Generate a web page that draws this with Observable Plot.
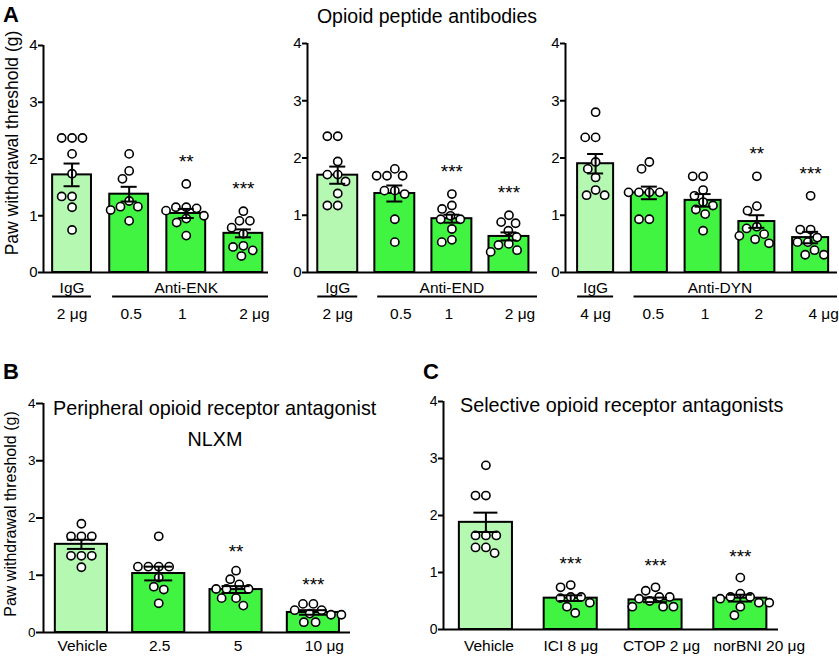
<!DOCTYPE html>
<html>
<head>
<meta charset="utf-8">
<script src="https://cdn.jsdelivr.net/npm/d3@7"></script>
<script src="https://cdn.jsdelivr.net/npm/@observablehq/plot@0.6"></script>
<style>
  body { margin: 0; background: #fff; }
  #wrap { position: relative; width: 839px; height: 656px; overflow: hidden; font-family: "Liberation Sans", Arial, sans-serif; color: #000; }
  .t { position: absolute; line-height: 1; white-space: nowrap; }
</style>
</head>
<body>
<div id="wrap"></div>
<script>
// ---------- DATA ----------
// Panel A: opioid peptide antibodies
const enkGroups = ["IgG", "Anti-ENK"];
const enkDoses = ["2 μg", "0.5", "1", "2 μg"];
const enkMeans = [1.72, 1.38, 1.04, 0.69];
const enkSem = [0.20, 0.13, 0.08, 0.07];
const enkSig = ["", "", "**", "***"];
const enkPoints = [
  [2.37, 2.37, 2.37, 2.09, 1.74, 1.34, 1.34, 1.15, 0.75],
  [2.09, 1.79, 1.65, 1.26, 1.16, 1.16, 1.10, 0.91],
  [1.56, 1.15, 1.15, 1.13, 1.09, 1.00, 0.95, 0.88, 0.65],
  [1.08, 0.91, 0.91, 0.79, 0.68, 0.47, 0.45, 0.39, 0.29]
];

const endGroups = ["IgG", "Anti-END"];
const endDoses = ["2 μg", "0.5", "1", "2 μg"];
const endMeans = [1.70, 1.38, 0.94, 0.63];
const endSem = [0.15, 0.14, 0.07, 0.07];
const endSig = ["", "", "***", "***"];
const endPoints = [
  [2.38, 2.38, 1.94, 1.71, 1.71, 1.59, 1.38, 1.17, 1.17],
  [1.81, 1.69, 1.69, 1.69, 1.43, 1.43, 1.37, 0.93, 0.53],
  [1.37, 1.17, 1.11, 0.99, 0.93, 0.93, 0.76, 0.57, 0.53],
  [1.00, 0.88, 0.86, 0.73, 0.62, 0.50, 0.48, 0.39, 0.36]
];

const dynGroups = ["IgG", "Anti-DYN"];
const dynDoses = ["4 μg", "0.5", "1", "2", "4 μg"];
const dynMeans = [1.90, 1.39, 1.26, 0.89, 0.61];
const dynSem = [0.17, 0.11, 0.11, 0.11, 0.10];
const dynSig = ["", "", "", "**", "***"];
const dynPoints = [
  [2.80, 2.36, 2.36, 1.93, 1.81, 1.66, 1.44, 1.35, 1.35],
  [1.93, 1.81, 1.40, 1.40, 1.40, 1.40, 0.93, 0.93],
  [1.68, 1.68, 1.44, 1.34, 1.23, 1.17, 1.10, 1.02, 0.73],
  [1.68, 1.16, 1.08, 0.80, 0.77, 0.67, 0.64, 0.58, 0.51],
  [1.34, 0.75, 0.75, 0.61, 0.53, 0.53, 0.39, 0.31, 0.31]
];

// Panel B: peripheral opioid receptor antagonist NLXM
const nlxmCats = ["Vehicle", "2.5", "5", "10 μg"];
const nlxmMeans = [1.54, 1.03, 0.75, 0.35];
const nlxmSem = [0.08, 0.12, 0.06, 0.04];
const nlxmSig = ["", "", "**", "***"];
const nlxmPoints = [
  [1.90, 1.68, 1.68, 1.68, 1.34, 1.34, 1.34, 1.14],
  [1.68, 1.15, 1.15, 1.15, 1.15, 0.96, 0.80, 0.75, 0.51],
  [1.08, 0.93, 0.84, 0.76, 0.76, 0.76, 0.60, 0.60, 0.47],
  [0.50, 0.50, 0.39, 0.39, 0.33, 0.31, 0.31, 0.18, 0.18]
];

// Panel C: selective opioid receptor antagonists
const selCats = ["Vehicle", "ICI 8 μg", "CTOP 2 μg", "norBNI 20 μg"];
const selMeans = [1.88, 0.55, 0.52, 0.55];
const selSem = [0.17, 0.05, 0.04, 0.06];
const selSig = ["", "***", "***", "***"];
const selPoints = [
  [2.88, 2.35, 2.35, 1.65, 1.65, 1.65, 1.44, 1.44, 1.34],
  [0.78, 0.74, 0.57, 0.57, 0.55, 0.47, 0.40, 0.29],
  [0.74, 0.68, 0.57, 0.57, 0.54, 0.50, 0.40, 0.40, 0.40],
  [0.91, 0.63, 0.57, 0.57, 0.54, 0.47, 0.47, 0.40, 0.25]
];

const yTicks = [0, 1, 2, 3, 4];
const yLabel = "Paw withdrawal threshold (g)";

// ---------- STYLE ----------
const LIGHT = "#b5f8b1";
const BRIGHT = "#42f442";
const FONT = "Liberation Sans, Arial, sans-serif";

// beeswarm-like horizontal offsets computed from the values
function dodge(vals, kx, ky, r) {
  const order = d3.range(vals.length).sort((a, b) => vals[b] - vals[a]);
  const placed = [];
  const out = new Array(vals.length);
  const D = 2 * r + 1;
  for (const i of order) {
    const y = vals[i] * ky;
    const near = placed.filter(p => Math.abs(p.y - y) < D);
    const cands = [0];
    for (const p of near) {
      const w = Math.sqrt(D * D - (p.y - y) ** 2);
      cands.push(p.x - w, p.x + w);
    }
    cands.sort((a, b) => Math.abs(a) - Math.abs(b) || a - b);
    const x = cands.find(c => near.every(p => Math.hypot(p.x - c, p.y - y) >= D - 1e-6));
    placed.push({x, y});
    out[i] = x / kx;
  }
  return out;
}

function panel(cfg) {
  const {labels, means, sems, sig, points, groups, width, height, mL, mR, mT, mB,
         xmin, xmax, hw, capPx, r, tickFont, tickLen, labFont, starFont, starDy, labDy, labShift,
         showYLabel, yLabDx, yLabDy, yLabFont, groupDx} = cfg;
  const kx = (width - mL - mR) / (xmax - xmin);
  const ky = (height - mT - mB) / 4;
  const cap = capPx / kx;
  const bars = labels.map((lab, i) => ({
    i, lab, mean: means[i], sem: sems[i], sig: sig[i],
    lx: i + (labShift ? labShift[i] : 0) / kx,
    top: d3.max(points[i]), fill: i === 0 ? LIGHT : BRIGHT
  }));
  const pts = [];
  points.forEach((vals, i) => {
    const off = dodge(vals, kx, ky, r + 0.6);
    vals.forEach((v, j) => pts.push({i, v, x: i + off[j]}));
  });
  const marks = [
    Plot.rectY(bars, {x1: d => d.i - hw, x2: d => d.i + hw, y1: 0, y2: "mean", fill: "fill", stroke: "black", strokeWidth: 2}),
    Plot.dot(pts, {x: "x", y: "v", r, fill: "white", stroke: "black", strokeWidth: 1.6}),
    Plot.ruleX(bars, {x: "i", y1: d => d.mean - d.sem, y2: d => d.mean + d.sem, strokeWidth: 2}),
    Plot.ruleY(bars, {y: d => d.mean + d.sem, x1: d => d.i - cap, x2: d => d.i + cap, strokeWidth: 2}),
    Plot.ruleY(bars, {y: d => d.mean - d.sem, x1: d => d.i - cap, x2: d => d.i + cap, strokeWidth: 2}),
    Plot.text(bars.filter(d => d.sig), {x: "i", y: "top", text: "sig", dy: starDy, lineAnchor: "middle", textAnchor: "middle", fontSize: starFont}),
    Plot.ruleY([0], {strokeWidth: 2}),
    Plot.ruleX([xmin], {y1: 0, y2: 4, strokeWidth: 2}),
    // y axis ticks and labels
    Plot.ruleY(yTicks, {y: d => d, x1: xmin, x2: xmin - tickLen / kx, strokeWidth: 2}),
    Plot.text(yTicks, {x: xmin, y: d => d, text: d => String(d), dx: -(tickLen + 1), textAnchor: "end", lineAnchor: "middle", fontSize: tickFont})
  ];
  if (groups) {
    // two-row labels: group names, underline, doses
    const n = labels.length;
    const grp = [
      {name: groups[0], x: 0, x1: -hw, x2: hw},
      {name: groups[1], x: (n) / 2 + (groupDx || 0) / kx, x1: 1 - hw + 0.05, x2: xmax}
    ];
    marks.push(
      Plot.text(grp, {x: "x", y: 0, text: "name", dy: labDy[0], lineAnchor: "bottom", textAnchor: "middle", fontSize: labFont}),
      Plot.ruleY(grp, {y: 0, x1: "x1", x2: "x2", dy: labDy[1], strokeWidth: 2}),
      Plot.text(bars, {x: "lx", y: 0, text: "lab", dy: labDy[2], lineAnchor: "bottom", textAnchor: "middle", fontSize: labFont})
    );
  } else {
    marks.push(Plot.text(bars, {x: "lx", y: 0, text: "lab", dy: labDy[0], lineAnchor: "bottom", textAnchor: "middle", fontSize: labFont}));
  }
  if (showYLabel) {
    marks.push(Plot.text([yLabel], {text: d => d, frameAnchor: "left", rotate: -90, dx: yLabDx, dy: yLabDy,
      textAnchor: "middle", lineAnchor: "bottom", fontSize: yLabFont}));
  }
  const svg = Plot.plot({
    width, height, marginLeft: mL, marginRight: mR, marginTop: mT, marginBottom: mB,
    style: {fontFamily: FONT, fontSize: tickFont + "px", color: "black", background: "transparent", overflow: "visible"},
    x: {type: "linear", domain: [xmin, xmax], axis: null},
    y: {domain: [0, 4], axis: null},
    marks
  });
  svg.style.position = "absolute";
  svg.style.left = cfg.left + "px";
  svg.style.top = cfg.top + "px";
  return svg;
}

const wrap = document.getElementById("wrap");
const common = {r: 4.1, tickFont: 15, tickLen: 5, labFont: 15.5, starFont: 19, starDy: -22};

wrap.append(panel({...common, labels: enkDoses, means: enkMeans, sems: enkSem, sig: enkSig, points: enkPoints, groups: enkGroups,
  left: 0, top: 30, width: 280, height: 300, mL: 43, mR: 12, mT: 15, mB: 58, xmin: -0.5, xmax: 3.44, hw: 0.34, capPx: 8,
  labDy: [20, 24, 46], labShift: [0, 2, -4, 11], showYLabel: true, yLabDx: -26, yLabDy: -16, yLabFont: 17.5}));
wrap.append(panel({...common, labels: endDoses, means: endMeans, sems: endSem, sig: endSig, points: endPoints, groups: endGroups,
  left: 280, top: 30, width: 280, height: 300, mL: 27, mR: 23, mT: 13, mB: 58, xmin: -0.53, xmax: 3.5, hw: 0.35, capPx: 8,
  labDy: [20, 24, 46], labShift: [0, 6, -3, 11]}));
wrap.append(panel({...common, labels: dynDoses, means: dynMeans, sems: dynSem, sig: dynSig, points: dynPoints, groups: dynGroups,
  left: 550, top: 30, width: 289, height: 300, mL: 15, mR: 2, mT: 13, mB: 58, xmin: -0.56, xmax: 4.5, hw: 0.335, capPx: 8,
  labDy: [20, 24, 46], labShift: [0, 4, 2, 2, 13], groupDx: -10}));
wrap.append(panel({...common, tickFont: 13.5, tickLen: 7, starDy: -19, labels: nlxmCats, means: nlxmMeans, sems: nlxmSem, sig: nlxmSig, points: nlxmPoints,
  left: 0, top: 340, width: 410, height: 316, mL: 43, mR: 60, mT: 63, mB: 24, xmin: -0.49, xmax: 3.48, hw: 0.337, capPx: 14,
  labDy: [18], labShift: [1, 1, 2, 11], showYLabel: true, yLabDx: -28, yLabDy: -4, yLabFont: 16}));
wrap.append(panel({...common, tickFont: 14, starDy: -21, labels: selCats, means: selMeans, sems: selSem, sig: selSig, points: selPoints,
  left: 410, top: 340, width: 429, height: 316, mL: 33, mR: 61, mT: 61, mB: 27, xmin: -0.5, xmax: 3.45, hw: 0.313, capPx: 12,
  labDy: [21], labShift: [3, 0, 6, 19]}));

// titles and panel letters
function label(text, css) {
  const d = document.createElement("div");
  d.className = "t";
  d.textContent = text;
  Object.assign(d.style, css);
  wrap.append(d);
}
label("A", {left: "3px", top: "4px", fontSize: "22px", fontWeight: "bold"});
label("Opioid peptide antibodies", {left: "227px", width: "400px", textAlign: "center", top: "7px", fontSize: "19.5px"});
label("B", {left: "3px", top: "361px", fontSize: "22px", fontWeight: "bold"});
label("Peripheral opioid receptor antagonist", {left: "53px", top: "399px", fontSize: "19.8px"});
label("NLXM", {left: "115px", width: "200px", textAlign: "center", top: "430px", fontSize: "19.8px"});
label("C", {left: "423px", top: "361px", fontSize: "22px", fontWeight: "bold"});
label("Selective opioid receptor antagonists", {left: "460px", top: "396px", fontSize: "19.8px"});
</script>
</body>
</html>
